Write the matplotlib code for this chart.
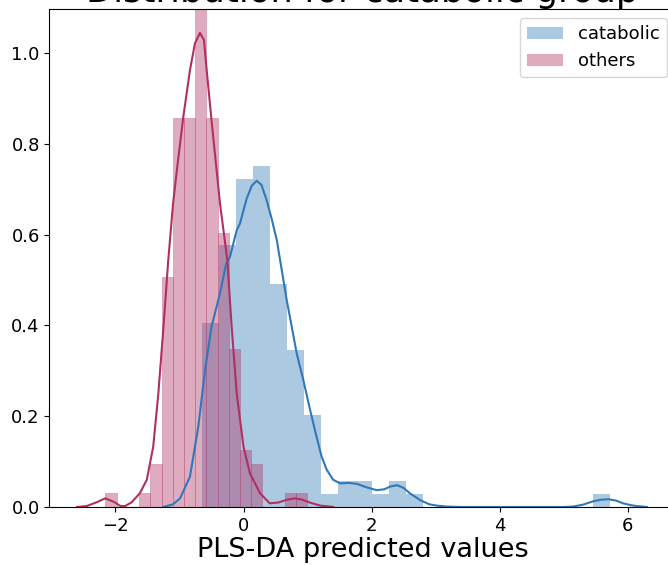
import numpy as np
import matplotlib.pyplot as plt
from matplotlib.patches import Patch

# couleurs
blue = "#3078b8"
maroon = "#b03060"

# histogrammes (densité)
cata_start = -0.645
cata_width = 0.2655
cata_heights = [0.406, 0.577, 0.723, 0.752, 0.491, 0.347, 0.203, 0.029,
                0.057, 0.057, 0.029, 0.057, 0.029, 0, 0, 0, 0, 0, 0, 0,
                0, 0, 0, 0.029]

oth_start = -2.156
oth_width = 0.1751
oth_heights = [0.031, 0, 0, 0.031, 0.094, 0.507, 0.857, 0.857, 1.24,
               0.857, 0.604, 0.348, 0.125, 0.094, 0, 0, 0.031, 0.031]

# courbes kde
cata_kde_x = [-1.25, -1.10, -0.99, -0.836, -0.706, -0.60, -0.50, -0.367, -0.273,
              -0.21, -0.106, -0.055, 0.05, 0.13, 0.206, 0.28, 0.36, 0.44, 0.52,
              0.60, 0.675, 0.75, 0.83, 0.934, 1.04, 1.14, 1.22, 1.30, 1.40, 1.51,
              1.64, 1.77, 1.93, 2.08, 2.20, 2.29, 2.40, 2.50, 2.60, 2.76, 2.90,
              3.02, 3.17, 3.40, 5.00, 5.15, 5.30, 5.45, 5.58, 5.70, 5.82, 5.93,
              6.05, 6.14, 6.30]
cata_kde_y = [0, 0.006, 0.019, 0.067, 0.177, 0.302, 0.397, 0.471, 0.535,
              0.552, 0.61, 0.625, 0.68, 0.708, 0.719, 0.71, 0.677, 0.635, 0.588,
              0.52, 0.456, 0.40, 0.339, 0.28, 0.214, 0.155, 0.111, 0.082, 0.06, 0.052,
              0.053, 0.051, 0.043, 0.037, 0.039, 0.045, 0.048, 0.042, 0.03, 0.015, 0.006,
              0.003, 0.001, 0, 0, 0.001, 0.005, 0.012, 0.016, 0.017, 0.014, 0.008,
              0.004, 0.002, 0]

oth_kde_x = [-2.60, -2.45, -2.30, -2.16, -2.02, -1.92, -1.85, -1.75, -1.62, -1.51,
             -1.41, -1.33, -1.25, -1.175, -1.10, -1.04, -0.94, -0.836, -0.758, -0.68,
             -0.617, -0.575, -0.50, -0.367, -0.253, -0.185, -0.106, 0.0, 0.10, 0.26,
             0.41, 0.55, 0.68, 0.80, 0.92, 1.05, 1.20, 1.40]
oth_kde_y = [0, 0.002, 0.01, 0.019, 0.011, 0.002, 0.002, 0.01, 0.03, 0.06,
             0.133, 0.25, 0.397, 0.544, 0.669, 0.743, 0.86, 0.963, 1.022, 1.045,
             1.029, 0.963, 0.853, 0.669, 0.544, 0.397, 0.25, 0.133, 0.074, 0.03,
             0.008, 0.010, 0.016, 0.019, 0.016, 0.009, 0.003, 0]

fig = plt.figure(figsize=(6.68, 5.65), dpi=100)
ax = fig.add_axes([0.0741, 0.1027, 0.9374, 0.8814])

cata_left = cata_start + cata_width * np.arange(len(cata_heights))
oth_left = oth_start + oth_width * np.arange(len(oth_heights))

ax.bar(cata_left, cata_heights, width=cata_width, align="edge",
       color=blue, alpha=0.4, linewidth=0)
ax.bar(oth_left, oth_heights, width=oth_width, align="edge",
       color=maroon, alpha=0.4, edgecolor=maroon, linewidth=0.5)

ax.plot(cata_kde_x, cata_kde_y, color=blue, lw=1.5)
ax.plot(oth_kde_x, oth_kde_y, color=maroon, lw=1.5)

ax.set_xlim(-3.03, 6.75)
ax.set_ylim(0, 1.0976)
ax.set_xticks([-2, 0, 2, 4, 6])
ax.set_yticks([0.0, 0.2, 0.4, 0.6, 0.8, 1.0])
ax.tick_params(labelsize=13)

ax.set_title("Distribution for catabolic group", fontsize=25.5, pad=3.6)
ax.set_xlabel("PLS-DA predicted values", fontsize=19.5, labelpad=1.8)

handles = [Patch(color=blue, alpha=0.4, linewidth=0),
           Patch(color=maroon, alpha=0.4, linewidth=0)]
ax.legend(handles, ["catabolic", "others"], loc="upper right", fontsize=13)

fig.savefig("out.png")
